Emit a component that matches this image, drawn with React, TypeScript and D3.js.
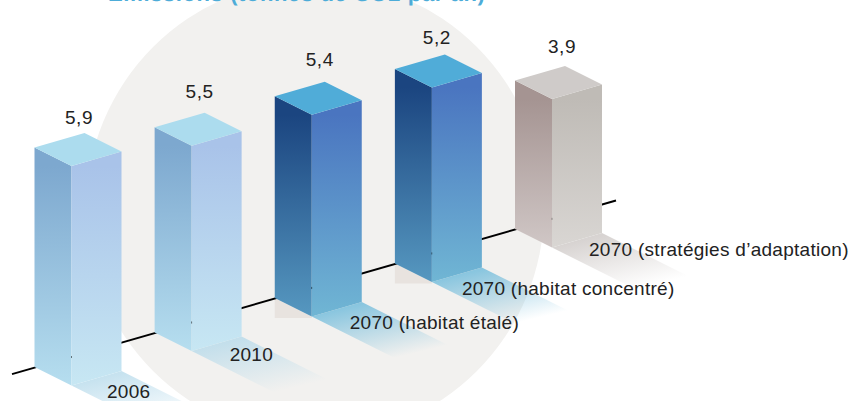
import React from "react";
import * as d3 from "d3";

// Values per scenario
const categories = [
  "2006",
  "2010",
  "2070 (habitat étalé)",
  "2070 (habitat concentré)",
  "2070 (stratégies d’adaptation)",
];
const values = [5.9, 5.5, 5.4, 5.2, 3.9];
const valueLabels = ["5,9", "5,5", "5,4", "5,2", "3,9"];
const titleText = "Émissions (tonnes de CO2 par an)";

type Palette = {
  top: string;
  left: [string, string];
  right: [string, string];
  shadow: string;
  shadowOpacity: number;
};
const lightBlue: Palette = {
  top: "#acdcee",
  left: ["#7da8cf", "#b6deef"],
  right: ["#a9c3e9", "#c7e7f3"],
  shadow: "#b4d9ea",
  shadowOpacity: 0.75,
};
const deepBlue: Palette = {
  top: "#50acd8",
  left: ["#1b4580", "#5698c0"],
  right: ["#4a75c0", "#70b6d4"],
  shadow: "#70bbdb",
  shadowOpacity: 0.8,
};
const stone: Palette = {
  top: "#cfcbc9",
  left: ["#a59492", "#d0c7c6"],
  right: ["#bfbbb6", "#d9d6d3"],
  shadow: "#bdb6b3",
  shadowOpacity: 0.6,
};
const palettes = [lightBlue, lightBlue, deepBlue, deepBlue, stone];
const castsFloorShade = [false, false, true, true, false];

// Oblique projection: each bar sits on the receding axis
const baseX = d3.scaleLinear().domain([0, 4]).range([34.5, 515]);
const baseY = d3.scaleLinear().domain([0, 4]).range([367, 229]);
const barHeight = d3.scaleLinear().domain([0, 6]).range([10, 223]);
const axisY = d3.scaleLinear().domain([35, 515]).range([367.5, 229.5]);

const frontEdge = { dx: 37, dy: 18.5 };
const sideEdge = { dx: 50, dy: -14.5 };
const castVector = { dx: 108, dy: 54 };
const castFade = { dx: 14, dy: 58 };
const labelOffsetX = [72.5, 75, 75, 67, 74];
const labelOffsetY = [31, 28, 31, 31, 27];
const valueOffsetX = [44.5, 45, 45, 42, 47];
const valueOffsetY = [9.5, 14.3, 15.8, 10.4, 13];

const path = d3.line<[number, number]>().curve(d3.curveLinearClosed);

function Bar({ i }: { i: number }) {
  const p = palettes[i];
  const x = baseX(i);
  const y = baseY(i);
  const h = barHeight(values[i]);
  const fx = x + frontEdge.dx;
  const fy = y + frontEdge.dy;
  const rx = fx + sideEdge.dx;
  const ry = fy + sideEdge.dy;
  const bx = x + sideEdge.dx;
  const by = y + sideEdge.dy;
  return (
    <g>
      <path
        d={path([[x, y - h], [fx, fy - h], [fx, fy], [x, y]])!}
        fill={`url(#left-${i})`}
      />
      <path
        d={path([[fx, fy - h], [rx, ry - h], [rx, ry], [fx, fy]])!}
        fill={`url(#right-${i})`}
      />
      <path
        d={path([[x, y - h], [bx, by - h], [rx, ry - h], [fx, fy - h]])!}
        fill={p.top}
      />
      <rect x={fx - 0.5} y={axisY(fx) - 1} width={1} height={2} fill="#222" opacity={0.4} />
    </g>
  );
}

export default function App() {
  const idx = d3.range(values.length);
  return (
    <svg
      width={851}
      height={401}
      viewBox="0 0 851 401"
      style={{ position: "fixed", left: 0, top: 0, display: "block", background: "#fff" }}
    >
      <defs>
        {idx.map((i) => {
          const p = palettes[i];
          const x = baseX(i);
          const y = baseY(i);
          const h = barHeight(values[i]);
          const fx = x + frontEdge.dx;
          const fy = y + frontEdge.dy;
          return (
            <React.Fragment key={i}>
              <linearGradient id={`left-${i}`} gradientUnits="userSpaceOnUse" x1={0} x2={0} y1={fy - h} y2={fy}>
                <stop offset="0" stopColor={p.left[0]} />
                <stop offset="1" stopColor={p.left[1]} />
              </linearGradient>
              <linearGradient id={`right-${i}`} gradientUnits="userSpaceOnUse" x1={0} x2={0} y1={fy - h} y2={fy}>
                <stop offset="0" stopColor={p.right[0]} />
                <stop offset="1" stopColor={p.right[1]} />
              </linearGradient>
              {/* Fade runs square to the bar's front edge */}
              <linearGradient
                id={`cast-${i}`}
                gradientUnits="userSpaceOnUse"
                x1={fx}
                y1={fy}
                x2={fx + castFade.dx}
                y2={fy + castFade.dy}
              >
                <stop offset="0" stopColor={p.shadow} stopOpacity={p.shadowOpacity} />
                <stop offset="1" stopColor={p.shadow} stopOpacity={0} />
              </linearGradient>
            </React.Fragment>
          );
        })}
      </defs>

      <circle cx={315} cy={209} r={229} fill="#f2f1ef" />

      <text
        x={108}
        y={0.5}
        fontFamily="'Liberation Sans', sans-serif"
        fontWeight={700}
        fontSize={22}
        letterSpacing={0.6}
        fill="#4dacd8"
        textRendering="geometricPrecision"
      >
        {titleText}
      </text>

      {/* Floor wedge under the two dark bars */}
      {idx.filter((i) => castsFloorShade[i]).map((i) => {
        const x = baseX(i);
        const y = baseY(i);
        return (
          <path
            key={i}
            d={path([[x, y], [x + frontEdge.dx, y + frontEdge.dy], [x + frontEdge.dx, y + frontEdge.dy + 1.5], [x, y + frontEdge.dy + 1.5]])!}
            fill="#e8e3df"
          />
        );
      })}

      {/* Shadows falling away from each bar */}
      {idx.map((i) => {
        const fx = baseX(i) + frontEdge.dx;
        const fy = baseY(i) + frontEdge.dy;
        const rx = fx + sideEdge.dx;
        const ry = fy + sideEdge.dy;
        return (
          <path
            key={i}
            d={path([
              [fx, fy],
              [rx, ry],
              [rx + castVector.dx, ry + castVector.dy],
              [fx + castVector.dx, fy + castVector.dy],
            ])!}
            fill={`url(#cast-${i})`}
          />
        );
      })}

      <line x1={12} y1={axisY(12)} x2={616} y2={axisY(616)} stroke="#000" strokeWidth={2} />

      {idx.map((i) => (
        <Bar key={i} i={i} />
      ))}

      {idx.map((i) => {
        const topBack = baseY(i) + sideEdge.dy - barHeight(values[i]);
        return (
          <text
            key={i}
            x={baseX(i) + valueOffsetX[i]}
            y={topBack - valueOffsetY[i]}
            textAnchor="middle"
            fontFamily="'Liberation Sans', sans-serif"
            fontSize={19}
            letterSpacing={0.6}
            fill="#222"
          >
            {valueLabels[i]}
          </text>
        );
      })}

      {idx.map((i) => (
        <text
          key={i}
          x={baseX(i) + labelOffsetX[i]}
          y={baseY(i) + labelOffsetY[i]}
          fontFamily="'Liberation Sans', sans-serif"
          fontSize={19}
          letterSpacing={0.28}
          fill="#222"
        >
          {categories[i]}
        </text>
      ))}
    </svg>
  );
}
